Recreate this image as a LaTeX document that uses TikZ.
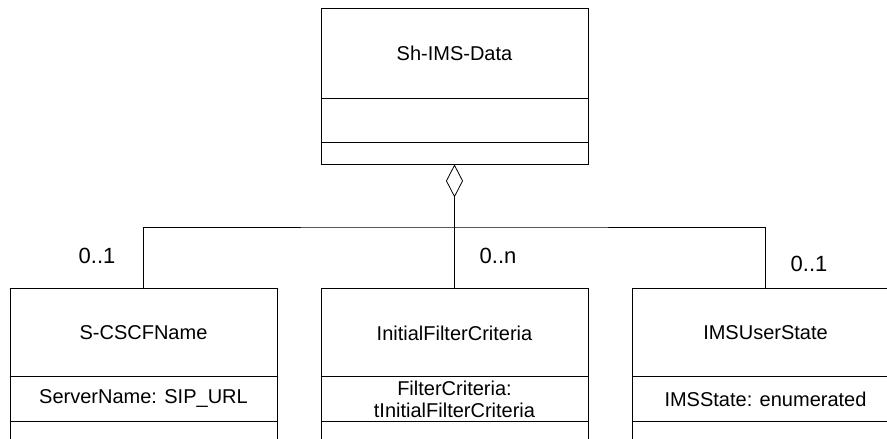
\documentclass[tikz,border=0pt]{standalone}
\usepackage{fontspec}
\setmainfont{Liberation Sans}
\usetikzlibrary{arrows.meta}

\begin{document}
\begin{tikzpicture}[x=1pt, y=-1pt, line width=0.8pt,
    classbox/.style={draw, rectangle, minimum width=267pt, inner sep=0pt},
    boxtext/.style={font=\fontsize{20}{22}\selectfont, align=center, inner sep=0pt},
    mult/.style={font=\fontsize{22}{24}\selectfont, inner sep=0pt},
    aggr/.style={{Diamond[open, length=33pt, width=17pt]}-}]
    \useasboundingbox (0,0) rectangle (887,439);
    \clip (0,0) rectangle (887,439);

    % container class
    \node (data) at (454.5,86) [classbox, minimum height=156pt] {};
    \node (dataT) at (454.5,53) [boxtext] {Sh-IMS-Data};
    \draw (data.west |- 0,98) -- (data.east |- 0,98);
    \draw (data.west |- 0,142) -- (data.east |- 0,142);

    % member classes
    \node (scscf) at (143.5,374) [classbox, minimum height=172pt] {};
    \node (ifc) at (454.5,374) [classbox, minimum height=172pt] {};
    \node (ims) at (765.5,374) [classbox, minimum height=172pt] {};
    \foreach \n in {scscf, ifc, ims} {
        \draw (\n.west |- 0,376) -- (\n.east |- 0,376);
        \draw (\n.west |- 0,421) -- (\n.east |- 0,421);
    }
    \node (scscfT) at (143.5,333) [boxtext] {S-CSCFName};
    \node (scscfA) at (143.5,399) [boxtext] {ServerName: SIP\_URL};
    \node (ifcT) at (454.5,333) [boxtext] {InitialFilterCriteria};
    \node (ifcA) at (454.5,399) [boxtext] {FilterCriteria:\\tInitialFilterCriteria};
    \node (imsT) at (765.5,333) [boxtext] {IMSUserState};
    \node (imsA) at (765.5,399) [boxtext] {IMSState: enumerated};

    % aggregation
    \coordinate (hub) at (454.5,227);
    \draw [aggr] (data.south) -- (hub);
    \draw (scscf.north) |- (hub) -| (ims.north);
    \draw (hub) -- (ifc.north);

    % multiplicities
    \node (m1) at (97,256) [mult] {0..1};
    \node (m2) at (498,256) [mult] {0..n};
    \node (m3) at (809,264) [mult] {0..1};
\end{tikzpicture}
\end{document}
